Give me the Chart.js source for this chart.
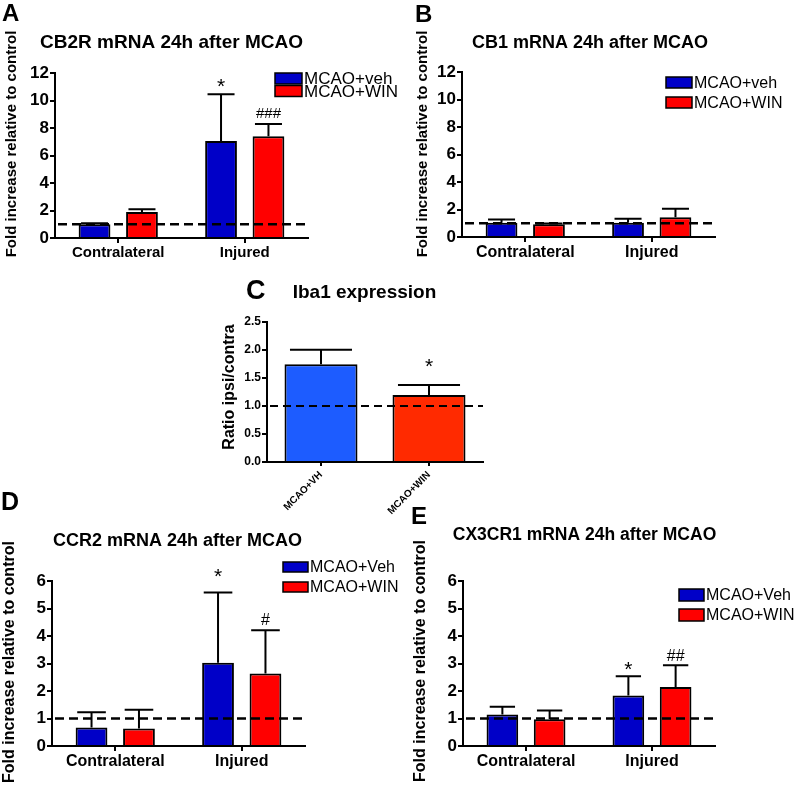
<!DOCTYPE html>
<html><head><meta charset="utf-8">
<script src="https://cdn.jsdelivr.net/npm/chart.js@4/dist/chart.umd.min.js"></script>
<style>
body{margin:0;background:#fff;width:800px;height:785px;position:relative;overflow:hidden;font-family:"Liberation Sans",Arial,sans-serif}
canvas{position:absolute}
.lbl{position:absolute;font-weight:bold;line-height:1;color:#000;white-space:nowrap}
</style></head><body>
<canvas id="cA" width="400" height="265" style="left:0;top:0"></canvas>
<canvas id="cB" width="400" height="265" style="left:400px;top:0"></canvas>
<canvas id="cC" width="320" height="235" style="left:190px;top:280px"></canvas>
<canvas id="cD" width="400" height="285" style="left:0;top:500px"></canvas>
<canvas id="cE" width="400" height="285" style="left:400px;top:500px"></canvas>
<div class="lbl" style="left:2px;top:1px;font-size:24px">A</div>
<div class="lbl" style="left:415px;top:2px;font-size:24px">B</div>
<div class="lbl" style="left:246px;top:277px;font-size:27px">C</div>
<div class="lbl" style="left:1px;top:489px;font-size:25px">D</div>
<div class="lbl" style="left:411px;top:504px;font-size:24px">E</div>
<script>
// ---------- data ----------
const groups = ['Contralateral', 'Injured'];
const controlLevel = 1;

// A: CB2R mRNA
const cb2rVeh = [1.0, 7.05];
const cb2rVehSem = [0.08, 3.4];
const cb2rWin = [1.9, 7.4];
const cb2rWinSem = [0.2, 0.9];

// B: CB1 mRNA
const cb1Veh = [1.04, 1.04];
const cb1VehSem = [0.24, 0.28];
const cb1Win = [0.92, 1.43];
const cb1WinSem = [0.06, 0.62];

// C: Iba1 expression
const ibaGroups = ['MCAO+VH', 'MCAO+WIN'];
const ibaRatio = [1.745, 1.195];
const ibaSem = [0.26, 0.18];

// D: CCR2 mRNA
const ccr2Veh = [0.67, 3.03];
const ccr2VehSem = [0.56, 2.55];
const ccr2Win = [0.64, 2.64];
const ccr2WinSem = [0.68, 1.57];

// E: CX3CR1 mRNA
const cx3Veh = [1.15, 1.84];
const cx3VehSem = [0.28, 0.70];
const cx3Win = [0.97, 2.15];
const cx3WinSem = [0.32, 0.79];

const FONT = '"Liberation Sans", Arial, Helvetica, sans-serif';
const BLUE = '#0000c8', RED = '#ff0000';
const C_BLUE = '#1d5cff', C_RED = '#ff2a00';
Chart.defaults.font.family = FONT;
Chart.defaults.color = '#000';

// ---------- plugins ----------
const extrasPlugin = {
  id: 'extras',
  afterDatasetsDraw(chart, args, o) {
    const ctx = chart.ctx, ys = chart.scales.y, ca = chart.chartArea;
    ctx.save();
    chart.data.datasets.forEach((ds, di) => {
      const meta = chart.getDatasetMeta(di);
      meta.data.forEach((bar, i) => {
        const top = ys.getPixelForValue(ds.data[i] + ds.errors[i]);
        const half = bar.width * o.capRatio / 2;
        ctx.strokeStyle = '#000'; ctx.lineWidth = 2; ctx.setLineDash([]);
        ctx.beginPath();
        ctx.moveTo(bar.x, bar.y); ctx.lineTo(bar.x, top);
        ctx.moveTo(bar.x - half, top); ctx.lineTo(bar.x + half, top);
        ctx.stroke();
      });
    });
    const yc = ys.getPixelForValue(o.baseline);
    ctx.strokeStyle = '#000';
    ctx.setLineDash(o.dash); ctx.lineWidth = o.dashWidth;
    ctx.beginPath(); ctx.moveTo(ca.left + 3, yc); ctx.lineTo(ca.right, yc); ctx.stroke();
    ctx.setLineDash([]);
    (o.annotations || []).forEach(a => {
      const ds = chart.data.datasets[a.ds];
      const bar = chart.getDatasetMeta(a.ds).data[a.idx];
      const top = ys.getPixelForValue(ds.data[a.idx] + ds.errors[a.idx]);
      ctx.font = a.size + 'px ' + FONT;
      ctx.fillStyle = '#000'; ctx.textAlign = 'center'; ctx.textBaseline = 'alphabetic';
      const m = ctx.measureText(a.text);
      const cy = top - a.gap;
      ctx.fillText(a.text, bar.x, cy + (m.actualBoundingBoxAscent - m.actualBoundingBoxDescent) / 2);
    });
    ctx.restore();
  },
  afterDraw(chart, args, o) {
    const ctx = chart.ctx;
    // chart title, centred where the reference places it
    ctx.save();
    ctx.font = 'bold ' + o.titleSize + 'px ' + FONT;
    ctx.fillStyle = '#000'; ctx.textAlign = 'center'; ctx.textBaseline = 'middle';
    ctx.fillText(chart.options.plugins.title.text, o.titleX, o.titleY);
    ctx.restore();
    // y-axis title
    const t = chart.options.scales.y.title;
    ctx.save();
    ctx.font = 'bold ' + o.yTitleSize + 'px ' + FONT;
    ctx.fillStyle = '#000'; ctx.textAlign = 'center'; ctx.textBaseline = 'middle';
    ctx.translate(o.yTitleX, o.yTitleY);
    ctx.rotate(-Math.PI / 2);
    ctx.fillText(t.text, 0, 0);
    ctx.restore();
  }
};

const boxLegendPlugin = {
  id: 'boxLegend',
  afterDraw(chart, args, o) {
    if (!o.show) return;
    const ctx = chart.ctx, ca = chart.chartArea;
    ctx.save();
    ctx.font = o.fontSize + 'px ' + FONT;
    ctx.textBaseline = 'middle'; ctx.textAlign = 'left';
    chart.data.datasets.forEach((ds, i) => {
      const x = ca.right + o.dx, y = ca.top + o.dy + i * o.rowGap;
      ctx.fillStyle = ds.backgroundColor; ctx.fillRect(x, y, o.boxW, o.boxH);
      ctx.lineWidth = 1.5; ctx.strokeStyle = '#000'; ctx.strokeRect(x, y, o.boxW, o.boxH);
      ctx.fillStyle = '#000'; ctx.fillText(ds.label, x + o.boxW + 2, y + o.boxH / 2 + 1);
    });
    ctx.restore();
  }
};

function barSet(label, data, errors, color, cp, bp) {
  return { label, data, errors, backgroundColor: color, borderColor: '#000', borderWidth: 2,
           borderSkipped: 'start', categoryPercentage: cp, barPercentage: bp };
}

function buildChart(id, p) {
  const cv = document.getElementById(id);
  const W = cv.width, H = cv.height;
  return new Chart(cv, {
    type: 'bar',
    data: { labels: p.labels, datasets: p.datasets },
    options: {
      responsive: false, animation: false, devicePixelRatio: 1,
      layout: { padding: { left: 0, top: p.area.top, right: W - p.area.right, bottom: 0 } },
      plugins: {
        legend: { display: false }, tooltip: { enabled: false },
        title: { display: false, text: p.title },
        boxLegend: p.legend || { show: false },
        extras: { baseline: controlLevel, annotations: p.annotations, capRatio: p.capRatio,
                  dash: p.dash, dashWidth: p.dashWidth,
                  titleX: p.titleX, titleY: p.titleY, titleSize: p.titleSize,
                  yTitleX: p.yTitleX, yTitleY: p.yTitleY, yTitleSize: p.yTitleSize }
      },
      scales: {
        x: {
          z: 1, offset: true,
          grid: { offset: false, drawOnChartArea: false, color: '#000', lineWidth: 2, tickLength: p.xTickLen },
          border: { color: '#000', width: 2 },
          ticks: { color: '#000', font: { size: p.xTickSize, weight: 'bold', family: FONT },
                   padding: p.xPad, autoSkip: false, maxRotation: p.xRot, minRotation: p.xRot },
          afterFit: s => { s.height = H - p.area.bottom; }
        },
        y: {
          z: 1, min: 0, max: p.yMax,
          ticks: { stepSize: p.yStep, color: '#000', font: { size: p.yTickSize, weight: 'bold', family: FONT },
                   padding: 1, callback: p.yFmt || (v => v) },
          grid: { drawOnChartArea: false, color: '#000', lineWidth: 2, tickLength: 5 },
          border: { color: '#000', width: 2 },
          title: { display: false, text: p.yTitle },
          afterFit: s => { s.width = p.area.left; }
        }
      }
    },
    plugins: [extrasPlugin, boxLegendPlugin]
  });
}

const yFold = 'Fold increase relative to control';
const CP = 0.75, BP = 0.67;

buildChart('cA', {
  labels: groups,
  datasets: [barSet('MCAO+veh', cb2rVeh, cb2rVehSem, BLUE, CP, BP), barSet('MCAO+WIN', cb2rWin, cb2rWinSem, RED, CP, BP)],
  area: { left: 55, right: 308, top: 73, bottom: 238 },
  title: 'CB2R mRNA 24h after MCAO', titleSize: 19, titleX: 171.5, titleY: 43,
  yMax: 12, yStep: 2, yTickSize: 17, yTitle: yFold, yTitleSize: 15, yTitleX: 12, yTitleY: 144,
  xTickSize: 15, xPad: 1, xTickLen: 5, xRot: 0,
  legend: { show: true, dx: -33, dy: 0, boxW: 27, boxH: 11, rowGap: 12.5, fontSize: 17 },
  annotations: [{ ds: 0, idx: 1, text: '*', size: 21, gap: 11 }, { ds: 1, idx: 1, text: '###', size: 15, gap: 11 }],
  capRatio: 0.85, dash: [9, 5], dashWidth: 2.5
});

buildChart('cB', {
  labels: groups,
  datasets: [barSet('MCAO+veh', cb1Veh, cb1VehSem, BLUE, CP, BP), barSet('MCAO+WIN', cb1Win, cb1WinSem, RED, CP, BP)],
  area: { left: 62, right: 315, top: 72, bottom: 237 },
  title: 'CB1 mRNA 24h after MCAO', titleSize: 18, titleX: 190, titleY: 43,
  yMax: 12, yStep: 2, yTickSize: 17, yTitle: yFold, yTitleSize: 15, yTitleX: 23, yTitleY: 144,
  xTickSize: 16, xPad: 1, xTickLen: 5, xRot: 0,
  legend: { show: true, dx: -49, dy: 5, boxW: 26, boxH: 11, rowGap: 20, fontSize: 16 },
  annotations: [],
  capRatio: 0.85, dash: [9, 5], dashWidth: 2.5
});

buildChart('cC', {
  labels: ibaGroups,
  datasets: [barSet('Iba1', ibaRatio, ibaSem, [C_BLUE, C_RED], 0.8, 0.845)],
  area: { left: 77, right: 293, top: 42, bottom: 182 },
  title: 'Iba1 expression', titleSize: 19, titleX: 174.5, titleY: 13,
  yMax: 2.5, yStep: 0.5, yTickSize: 12, yFmt: v => Number(v).toFixed(1),
  yTitle: 'Ratio ipsi/contra', yTitleSize: 16, yTitleX: 40, yTitleY: 107,
  xTickSize: 10, xPad: 3, xTickLen: 4, xRot: 45,
  annotations: [{ ds: 0, idx: 1, text: '*', size: 21, gap: 22 }],
  capRatio: 0.85, dash: [8, 5], dashWidth: 2
});

buildChart('cD', {
  labels: groups,
  datasets: [barSet('MCAO+Veh', ccr2Veh, ccr2VehSem, BLUE, CP, BP), barSet('MCAO+WIN', ccr2Win, ccr2WinSem, RED, CP, BP)],
  area: { left: 52, right: 305, top: 81, bottom: 246 },
  title: 'CCR2 mRNA 24h after MCAO', titleSize: 18, titleX: 177.5, titleY: 41,
  yMax: 6, yStep: 1, yTickSize: 17, yTitle: yFold, yTitleSize: 16, yTitleX: 10, yTitleY: 162,
  xTickSize: 16, xPad: 1, xTickLen: 5, xRot: 0,
  legend: { show: true, dx: -22, dy: -19, boxW: 25, boxH: 10, rowGap: 20, fontSize: 16 },
  annotations: [{ ds: 0, idx: 1, text: '*', size: 21, gap: 20 }, { ds: 1, idx: 1, text: '#', size: 16, gap: 11 }],
  capRatio: 0.9, dash: [9, 5], dashWidth: 2.5
});

buildChart('cE', {
  labels: groups,
  datasets: [barSet('MCAO+Veh', cx3Veh, cx3VehSem, BLUE, CP, BP), barSet('MCAO+WIN', cx3Win, cx3WinSem, RED, CP, BP)],
  area: { left: 63, right: 315, top: 81, bottom: 246 },
  title: 'CX3CR1 mRNA 24h after MCAO', titleSize: 17.5, titleX: 184.5, titleY: 35,
  yMax: 6, yStep: 1, yTickSize: 17, yTitle: yFold, yTitleSize: 16, yTitleX: 21, yTitleY: 161,
  xTickSize: 16, xPad: 1, xTickLen: 5, xRot: 0,
  legend: { show: true, dx: -36, dy: 8, boxW: 25, boxH: 12, rowGap: 20, fontSize: 16 },
  annotations: [{ ds: 0, idx: 1, text: '*', size: 21, gap: 10 }, { ds: 1, idx: 1, text: '##', size: 16, gap: 10 }],
  capRatio: 0.8, dash: [9, 5], dashWidth: 2.5
});
</script>
</body></html>
